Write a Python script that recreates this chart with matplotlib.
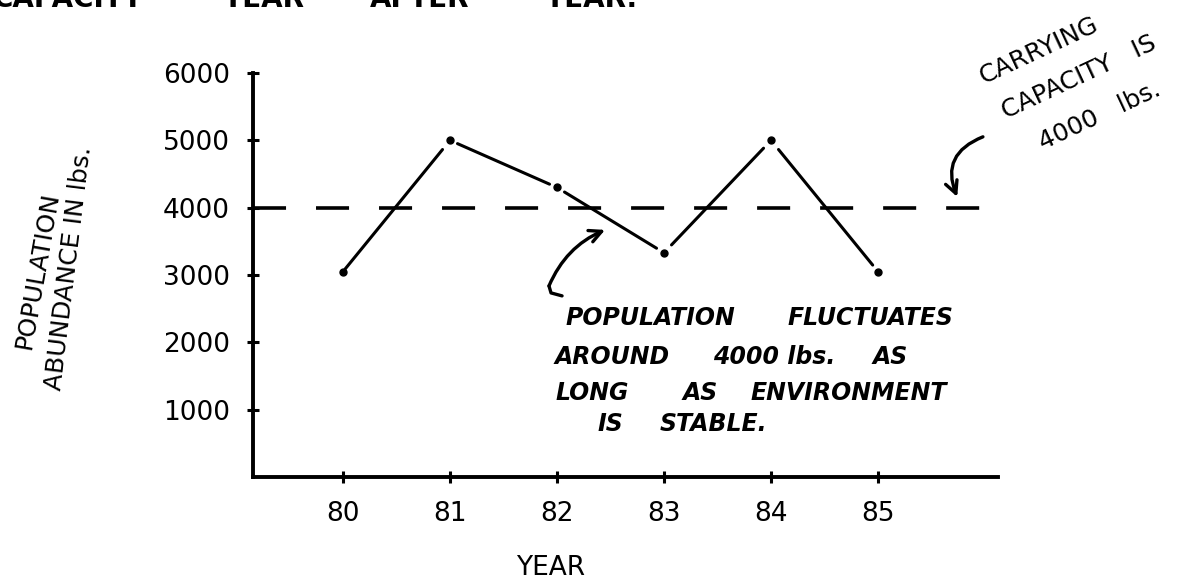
import matplotlib
matplotlib.use("Agg")
import matplotlib.pyplot as plt

# Yearly population abundance (lbs.)
years = [80, 81, 82, 83, 84, 85]
population = [3050, 5000, 4300, 3330, 5000, 3050]
carrying_capacity = 4000

y_ticks = [1000, 2000, 3000, 4000, 5000, 6000]
y_tick_labels = ["1000", "2000", "3000", "4000", "5000", "6000"]
x_tick_labels = ["80", "81", "82", "83", "84", "85"]

plt.rcParams["font.family"] = ["DejaVu Sans"]
INK = "black"
W, H = 1194, 580

fig = plt.figure(figsize=(W / 100, H / 100), dpi=100)
ax = fig.add_axes([253 / W, 1 - 477 / H, 745 / W, 404 / H])
ax.set_xlim(79.159, 86.121)
ax.set_ylim(0, 6000)

# dashed carrying-capacity level
ax.plot([ax.get_xlim()[0], 86.0], [carrying_capacity, carrying_capacity],
        color=INK, lw=2.6, dashes=(9.15, 8.3), dash_capstyle="butt")

# population line: each segment stops a little short of the dots
for i in range(len(years) - 1):
    x0, x1 = years[i], years[i + 1]
    y0, y1 = population[i], population[i + 1]
    s = 0.02 if i == 0 else 0.07
    e = 0.05 if i == len(years) - 2 else 0.07
    ax.plot([x0 + s * (x1 - x0), x1 - e * (x1 - x0)],
            [y0 + s * (y1 - y0), y1 - e * (y1 - y0)],
            color=INK, lw=2.2, solid_capstyle="round")
ax.plot(years, population, "o", color=INK, ms=5)

# axes
for side in ("top", "right"):
    ax.spines[side].set_visible(False)
for side in ("left", "bottom"):
    ax.spines[side].set_linewidth(2.8)
ax.set_xticks(years)
ax.set_xticklabels(x_tick_labels)
ax.set_yticks(y_ticks)
ax.set_yticklabels(y_tick_labels)
ax.tick_params(axis="both", direction="inout", length=9, width=2.2,
               labelsize=19, colors=INK)
ax.tick_params(axis="y", pad=12)
ax.tick_params(axis="x", pad=13)

ax.set_xlabel("YEAR", fontsize=19)
ax.xaxis.set_label_coords(0.399, -0.193)

# two-line, slanted y label
fig.text(0.031, 1 - 270 / H, "POPULATION", rotation=80, ha="center",
         va="center", rotation_mode="anchor", fontsize=18)
fig.text(0.058, 1 - 268 / H, "ABUNDANCE IN lbs.", rotation=83, ha="center",
         va="center", rotation_mode="anchor", fontsize=18)

# carrying-capacity note
note_kw = dict(ha="center", va="center", rotation=25, rotation_mode="anchor",
               fontsize=18)
fig.text(1039 / W, 1 - 51 / H, "CARRYING", **note_kw)
fig.text(1079 / W, 1 - 77 / H, "CAPACITY   IS", **note_kw)
fig.text(1100 / W, 1 - 116 / H, "4000   lbs.", **note_kw)
ax.annotate("", xy=(85.74, 4160), xytext=(85.98, 5052),
            arrowprops=dict(arrowstyle="->", lw=2.4, color=INK,
                            connectionstyle="arc3,rad=0.5",
                            mutation_scale=22, shrinkA=0, shrinkB=0))

# fluctuation note, word by word
block_kw = dict(ha="left", va="center", fontsize=17, style="italic",
                fontweight="bold")
note_lines = [
    (318, [(565, "POPULATION"), (788, "FLUCTUATES")]),
    (357, [(555, "AROUND"), (713, "4000 lbs."), (873, "AS")]),
    (393, [(555, "LONG"), (683, "AS"), (750, "ENVIRONMENT")]),
    (424, [(597, "IS"), (660, "STABLE.")]),
]
for y_px, words in note_lines:
    for x_px, word in words:
        fig.text(x_px / W, 1 - y_px / H, word, **block_kw)

ax.plot([82.047, 81.944, 81.925], [2690, 2734, 2838], color=INK, lw=2.4,
        solid_capstyle="round")
ax.annotate("", xy=(82.449, 3670), xytext=(81.925, 2838),
            arrowprops=dict(arrowstyle="->", lw=2.4, color=INK,
                            connectionstyle="arc3,rad=-0.2",
                            mutation_scale=22, shrinkA=0, shrinkB=0))

# tail of the preceding sentence, running off the top edge
top_kw = dict(va="baseline", fontsize=20, fontweight="bold")
top_y = 1 - 7 / H
fig.text(144 / W, top_y, "CAPACITY", ha="right", **top_kw)
fig.text(222 / W, top_y, "YEAR", ha="left", **top_kw)
fig.text(370 / W, top_y, "AFTER", ha="left", **top_kw)
fig.text(544 / W, top_y, "YEAR.", ha="left", **top_kw)

fig.savefig("out.png", dpi=100)
